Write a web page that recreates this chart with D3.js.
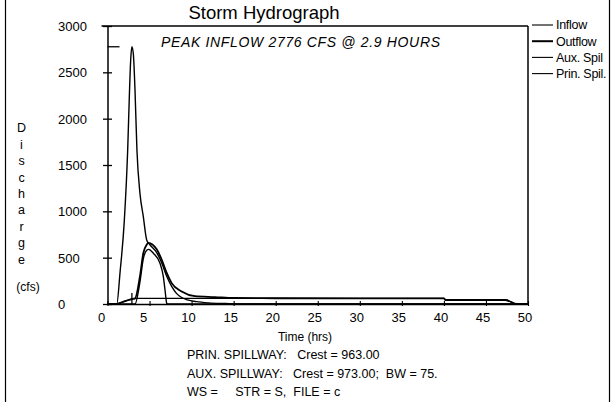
<!DOCTYPE html>
<html><head><meta charset="utf-8">
<script src="https://cdn.jsdelivr.net/npm/d3@7"></script>
<style>
html,body{margin:0;padding:0;background:#fff;}
svg{display:block;}
text{font-family:Arial,"Liberation Sans",sans-serif;fill:#000;}
</style></head>
<body>
<script>
// ---- data ----
const xTicks = [0,5,10,15,20,25,30,35,40,45,50];
const yTicks = [0,500,1000,1500,2000,2500,3000];
const seriesNames = ["Inflow","Outflow","Aux. Spil","Prin. Spil."];

const inflowTime = [0,1.1,1.5,2.0,2.4,2.6,2.75,2.9,3.07,3.27,3.5,3.86,4.26,4.66,5.0,5.85,6.44,7.04,7.63,8.2,8.82,9.5,10.6,12,14,16,50];
const inflowCfs  = [0,0,350,900,1662,2250,2620,2776,2700,2309,1662,1194,942,691,645,555,445,300,190,115,70,45,25,12,5,0,0];

const outflowTime = [0,1.0,1.5,2.0,2.5,3.0,3.27,3.86,4.26,4.66,4.85,5.85,6.44,7.04,7.63,8.82,10.4,12.8,15,20,40,40.2,47.3,48.7,50];
const outflowCfs  = [0,0,12,28,43,56,61,300,550,640,660,590,480,335,225,135,85,75,65,62,61,43,43,0,0];

const auxTime = [0,3.27,3.86,4.26,4.66,4.9,5.45,6.24,6.64,6.84,7.04,7.1,50];
const auxCfs  = [0,0,240,490,580,590,547,439,295,151,8,0,0];

const prinTime = [0,1.0,1.5,2.0,2.5,3.0,3.5,40,40.2,47.3,48.7,50];
const prinCfs  = [0,0,12,28,43,56,61,61,43,43,0,0];

const peakFlow = 2776, peakTime = 2.9;

// ---- drawing ----
const W = 611, H = 402;
const svg = d3.select("body").append("svg").attr("width",W).attr("height",H);

const x = d3.scaleLinear().domain([0,50]).range([107.5,528]);
const y = d3.scaleLinear().domain([0,3000]).range([304,26]);

// page frame edges
svg.append("line").attr("x1",5.5).attr("x2",5.5).attr("y1",0).attr("y2",H).attr("stroke","#000").attr("stroke-width",1.2);
svg.append("line").attr("x1",609.5).attr("x2",609.5).attr("y1",0).attr("y2",H).attr("stroke","#000").attr("stroke-width",1.2);

// title
svg.append("text").attr("x",264).attr("y",19).attr("text-anchor","middle")
  .style("font-size","18.5px").text("Storm Hydrograph");

// plot frame (top & right)
svg.append("line").attr("x1",x(0)-6).attr("x2",x(50)).attr("y1",y(3000)).attr("y2",y(3000)).attr("stroke","#000").attr("stroke-width",1.3);
svg.append("line").attr("x1",x(50)).attr("x2",x(50)).attr("y1",y(3000)).attr("y2",y(0)).attr("stroke","#000").attr("stroke-width",1.5);

// y axis
const yAxis = d3.axisLeft(y).tickValues(yTicks).tickSize(0).tickFormat("");
const gy = svg.append("g").attr("transform",`translate(${x(0)},0)`).call(yAxis);
gy.select(".domain").attr("stroke","#000").attr("stroke-width",1.5);
gy.selectAll(".tick").append("line").attr("x1",-4.5).attr("x2",4.5).attr("stroke","#000").attr("stroke-width",1.3);
gy.selectAll(".tick").append("text").attr("x",58-x(0)).attr("dy","0.35em")
  .attr("text-anchor","start").style("font-size","13px").text(d=>d);

// x axis
const xAxis = d3.axisBottom(x).tickValues(xTicks).tickSize(0).tickFormat("");
const gx = svg.append("g").attr("transform",`translate(0,${y(0)})`).call(xAxis);
gx.select(".domain").attr("stroke","#000").attr("stroke-width",1.5);
gx.selectAll(".tick").append("line").attr("y1",-3).attr("y2",2).attr("stroke","#000").attr("stroke-width",1.1);
gx.selectAll(".tick").append("text").attr("y",18)
  .attr("x",d=>String(d).length===1?-6.5:-3.5)
  .attr("text-anchor","middle").style("font-size","13px").text(d=>d);

// peak markers
svg.append("line").attr("x1",x(0)).attr("x2",x(0)+12).attr("y1",y(peakFlow)).attr("y2",y(peakFlow)).attr("stroke","#000").attr("stroke-width",1.3);
svg.append("line").attr("x1",x(peakTime)).attr("x2",x(peakTime)).attr("y1",y(0)).attr("y2",y(0)-11).attr("stroke","#000").attr("stroke-width",1.3);

// series
function mk(t,q){return t.map((d,i)=>[d,q[i]]);}
const line = d3.line().x(d=>x(d[0])).y(d=>y(d[1])).curve(d3.curveMonotoneX);
const plot = svg.append("g");
plot.append("path").datum(mk(prinTime,prinCfs)).attr("d",line).attr("fill","none").attr("stroke","#000").attr("stroke-width",1.3);
plot.append("path").datum(mk(auxTime,auxCfs)).attr("d",line).attr("fill","none").attr("stroke","#000").attr("stroke-width",1.4);
plot.append("path").datum(mk(inflowTime,inflowCfs)).attr("d",line).attr("fill","none").attr("stroke","#000").attr("stroke-width",1.4);
plot.append("path").datum(mk(outflowTime,outflowCfs)).attr("d",line).attr("fill","none").attr("stroke","#000").attr("stroke-width",1.8);

// peak annotation
svg.append("text").attr("x",161).attr("y",47).style("font-size","14px").style("font-style","italic")
  .attr("textLength",279).attr("lengthAdjust","spacing")
  .text(`PEAK INFLOW ${peakFlow} CFS @ ${peakTime} HOURS`);

// legend
const legW = [1.1,2,1.1,1.1];
const leg = svg.append("g");
seriesNames.forEach((n,i)=>{
  const ly = 25 + i*16.2;
  leg.append("line").attr("x1",532).attr("x2",553).attr("y1",ly).attr("y2",ly).attr("stroke","#000").attr("stroke-width",legW[i]);
  leg.append("text").attr("x",556).attr("y",ly).attr("dy","0.35em").style("font-size","12.5px")
     .style("letter-spacing","-0.3px").text(n);
});

// y label (stacked letters)
const yLabel = "Discharge".split("");
yLabel.forEach((c,i)=>{
  svg.append("text").attr("x",21.5).attr("y",128+i*16.4).attr("dy","0.35em").attr("text-anchor","middle").style("font-size","12.5px").text(c);
});
svg.append("text").attr("x",28).attr("y",287).attr("dy","0.35em").attr("text-anchor","middle").style("font-size","12px").text("(cfs)");

// x label and notes
svg.append("text").attr("x",305).attr("y",337).attr("dy","0.35em").attr("text-anchor","middle").style("font-size","12px").text("Time (hrs)");
const notes = ["PRIN. SPILLWAY:   Crest = 963.00","AUX. SPILLWAY:   Crest = 973.00;  BW = 75.","WS =     STR = S,  FILE = c"];
notes.forEach((t,i)=>{
  svg.append("text").attr("x",187).attr("y",355+i*18.5).attr("dy","0.35em").style("font-size","12.5px")
    .style("white-space","pre").attr("xml:space","preserve").text(t);
});
</script>
</body></html>
